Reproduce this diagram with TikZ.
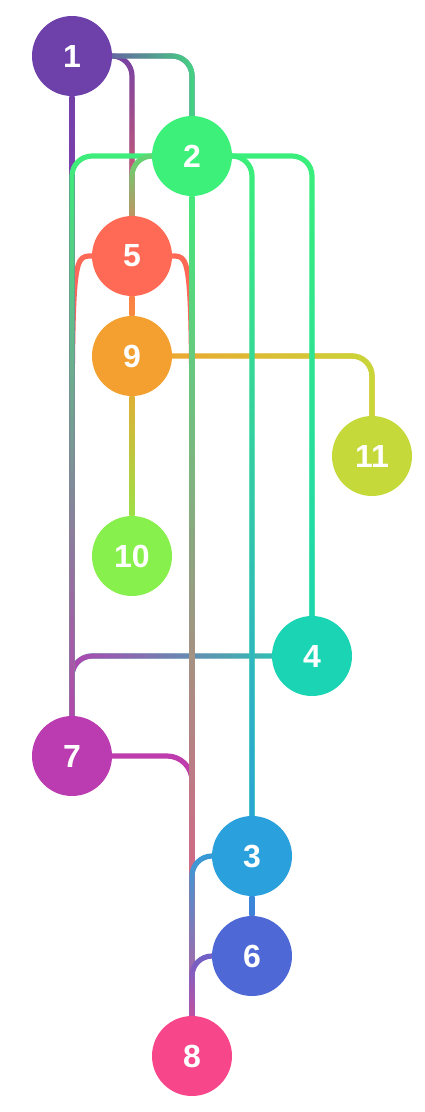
\documentclass[tikz,border=0pt]{standalone}
\usepackage{fontspec}
\setmainfont{Liberation Sans}
\usetikzlibrary{fadings,calc,backgrounds}
\definecolor{c1}{HTML}{6E40AA}
\definecolor{c7}{HTML}{BB3CB0}
\definecolor{c8}{HTML}{F7468A}
\definecolor{c5}{HTML}{FF6A56}
\definecolor{c9}{HTML}{F3A030}
\definecolor{c11}{HTML}{C5DA3A}
\definecolor{c10}{HTML}{88F04C}
\definecolor{c2}{HTML}{3CF07A}
\definecolor{c4}{HTML}{1AD4B4}
\definecolor{c3}{HTML}{2AA0DC}
\definecolor{c6}{HTML}{4E68D6}
\tikzfading[name=fadeD, top color=transparent!100, bottom color=transparent!0]
\tikzfading[name=fadeR, left color=transparent!100, right color=transparent!0]
\tikzfading[name=fadeL, left color=transparent!0, right color=transparent!100]
\newcommand\gedge[4]{%
  \draw[edgeln, draw=#1] #4;
  \draw[edgeln, draw=#2, path fading=#3] #4;}
\newcommand\vedge[4]{%
  \shade[top color=#3, bottom color=#4] ($(#1.south)+(-2.6,0)$) rectangle ($(#2.north)+(2.6,0)$);}
\begin{document}
\begin{tikzpicture}[x=1pt,y=-1pt,
  nd/.style={circle, minimum size=80pt, inner sep=0pt, text=white,
    font=\fontsize{32}{32}\selectfont\bfseries},
  edgeln/.style={line width=5.2pt, rounded corners=20pt}]
\useasboundingbox (0,0) rectangle (424,1112);
\node[nd, fill=c1] (n1) at (72,56) {1};
\node[nd, fill=c2] (n2) at (192,156) {2};
\node[nd, fill=c5] (n5) at (132,256) {5};
\node[nd, fill=c9] (n9) at (132,356) {9};
\node[nd, fill=c11] (n11) at (372,456) {11};
\node[nd, fill=c10] (n10) at (132,556) {10};
\node[nd, fill=c4] (n4) at (312,656) {4};
\node[nd, fill=c7] (n7) at (72,756) {7};
\node[nd, fill=c3] (n3) at (252,856) {3};
\node[nd, fill=c6] (n6) at (252,956) {6};
\node[nd, fill=c8] (n8) at (192,1056) {8};
\coordinate (k57) at (n5.west -| n7.north);
\coordinate (k58) at (n5.east -| n8.north);
\begin{scope}[on background layer]
\gedge{c11!14.2!c9}{c11!94!c9}{fadeR}{(n9.east) -| (n11.north)}
\gedge{c7!14.2!c4}{c7!94!c4}{fadeL}{(n4.west) -| (n7.north)}
\gedge{c5}{c7!92!c5}{fadeD}{(n5.west) .. controls (k57) and (k57) .. ($(k57)+(0,300)$) -- (n7.north)}
\gedge{c5}{c8!95!c5}{fadeD}{(n5.east) .. controls (k58) and (k58) .. ($(k58)+(0,300)$) -- (n8.north)}
\gedge{c8!4.6!c7}{c8!88.5!c7}{fadeD}{[rounded corners=25pt] (n7.east) -| (n8.north)}
\vedge{n1}{n7}{c7!5.7!c1}{c7!94.3!c1}
\gedge{c5!5.5!c1}{c5!81.7!c1}{fadeD}{(n1.east) -| (n5.north)}
\gedge{c2!19.7!c1}{c2!83.6!c1}{fadeR}{(n1.east) -| (n2.north)}
\gedge{c7!1.3!c2}{c7!93.6!c2}{fadeD}{(n2.west) -| (n7.north)}
\gedge{c5!17.6!c2}{c5!70.6!c2}{fadeD}{(n2.west) -| (n5.north)}
\vedge{n2}{n8}{c8!4.4!c2}{c8!95.6!c2}
\gedge{c2}{c3!94.3!c2}{fadeD}{(n2.east) -| (n3.north)}
\gedge{c4!1.8!c2}{c4!92.4!c2}{fadeD}{(n2.east) -| (n4.north)}
\vedge{n5}{n9}{c9!40!c5}{c9!60!c5}
\vedge{n9}{n10}{c10!20!c9}{c10!80!c9}
\gedge{c8!5.5!c3}{c8!81.7!c3}{fadeD}{(n3.west) -| (n8.north)}
\vedge{n3}{n6}{c6!40!c3}{c6!60!c3}
\gedge{c8!17.6!c6}{c8!70.6!c6}{fadeD}{(n6.west) -| (n8.north)}
\end{scope}
\end{tikzpicture}
\end{document}
